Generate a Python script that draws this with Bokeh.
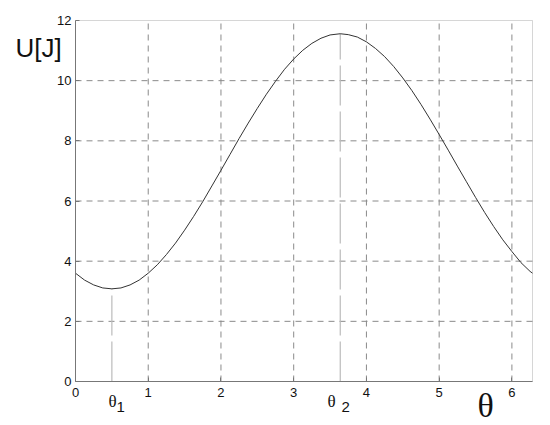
from bokeh.plotting import figure
from bokeh.models import FixedTicker, Label, Range1d, LinearAxis, BoxAnnotation
from bokeh.embed import file_html
from bokeh.resources import INLINE

# data
theta = [0.0, 0.125, 0.25, 0.375, 0.5, 0.625, 0.75, 0.875, 1.0, 1.125, 1.25,
         1.375, 1.5, 1.625, 1.75, 1.875, 2.0, 2.125, 2.25, 2.375, 2.5, 2.625,
         2.75, 2.875, 3.0, 3.125, 3.25, 3.375, 3.5, 3.64, 3.75, 3.875, 4.0,
         4.125, 4.25, 4.375, 4.5, 4.625, 4.75, 4.875, 5.0, 5.125, 5.25, 5.375,
         5.5, 5.625, 5.75, 5.875, 6.0, 6.125, 6.25, 6.2832]
energy = [3.60, 3.37, 3.21, 3.11, 3.08, 3.11, 3.21, 3.37, 3.60, 3.88, 4.22,
          4.60, 5.03, 5.49, 5.98, 6.50, 7.02, 7.55, 8.08, 8.59, 9.08, 9.55,
          9.98, 10.38, 10.72, 11.01, 11.24, 11.41, 11.52, 11.56, 11.53, 11.45,
          11.29, 11.07, 10.80, 10.47, 10.09, 9.67, 9.21, 8.72, 8.21, 7.69,
          7.16, 6.64, 6.12, 5.62, 5.15, 4.71, 4.32, 3.95, 3.66, 3.60]
theta1, u_min = 0.50, 3.08
theta2, u_max = 3.64, 11.56
x_min, x_max = 0.0, 6.2832
y_min, y_max = 0.0, 12.0
x_ticks = [0, 1, 2, 3, 4, 5, 6]
y_ticks = [0, 2, 4, 6, 8, 10, 12]

# layout: axes box at pixels x 75..532, y 20..381 of a 550x425 canvas
W, H = 550, 425
BOX_L, BOX_R, BOX_T, BOX_B = 75, 532, 20, 381
sx = (BOX_R - BOX_L) / (x_max - x_min)
sy = (BOX_B - BOX_T) / (y_max - y_min)
xr = Range1d(x_min - BOX_L / sx, x_max + (W - BOX_R) / sx)
yr = Range1d(y_min - (H - BOX_B) / sy, y_max + BOX_T / sy)


def px(x):
    return x_min + (x - BOX_L) / sx


def py(y):
    return y_min + (BOX_B - y) / sy


p = figure(width=W, height=H, output_backend="svg", toolbar_location=None,
           x_range=xr, y_range=yr, x_axis_type=None, y_axis_type=None,
           min_border=0)
p.background_fill_color = "white"
p.border_fill_color = "white"
p.outline_line_color = None
p.xgrid.visible = False
p.ygrid.visible = False

# grid lines at tick positions
gx = x_ticks[1:]
gy = y_ticks[1:-1]
p.segment(x0=gx, y0=[y_min] * len(gx), x1=gx, y1=[y_max] * len(gx),
          line_color="#8a8a8a", line_dash="6 5", line_width=1)
p.segment(x0=[x_min] * len(gy), y0=gy, x1=[x_max] * len(gy), y1=gy,
          line_color="#8a8a8a", line_dash="6 5", line_width=1)

# axes box
p.add_layout(BoxAnnotation(left=x_min, right=x_max, bottom=y_min, top=y_max,
                           fill_alpha=0, line_color="#777777", line_width=1,
                           level="overlay"))

xaxis = LinearAxis(fixed_location=y_min, bounds=(x_min, x_max),
                   ticker=FixedTicker(ticks=x_ticks))
yaxis = LinearAxis(fixed_location=x_min, bounds=(y_min, y_max),
                   ticker=FixedTicker(ticks=y_ticks))
for ax in (xaxis, yaxis):
    ax.axis_line_color = "#777777"
    ax.major_tick_line_color = "#777777"
    ax.major_tick_in = 4
    ax.major_tick_out = 0
    ax.minor_tick_line_color = None
    ax.major_label_text_font = "Liberation Sans"
    ax.major_label_text_font_size = "13px"
    ax.major_label_text_color = "#111111"
xaxis.major_label_standoff = 6
yaxis.major_label_standoff = 4
p.add_layout(xaxis, "below")
p.add_layout(yaxis, "left")

# markers of the extrema
p.segment(x0=[theta1], y0=[y_min], x1=[theta1], y1=[u_min],
          line_color="#bbbbbb", line_width=1.2, line_dash="40 6")
p.segment(x0=[theta2], y0=[y_min], x1=[theta2], y1=[u_max],
          line_color="#bbbbbb", line_width=1.2, line_dash="40 6")

p.line(theta, energy, line_color="#333333", line_width=1)


def lab(x, y, text, font, size):
    # (x, y): pixel position of the left edge / vertical middle of the text
    p.add_layout(Label(x=px(x), y=py(y), text=text, text_font=font,
                       text_font_size=size, text_color="#111111",
                       text_baseline="middle", text_align="left"))


lab(15, 47.5, "U[J]", "Liberation Sans", "26px")
lab(477, 404.5, "θ", "Liberation Serif", "34px")
lab(108, 401, "θ", "Liberation Serif", "17px")
lab(116, 406, "1", "Liberation Sans", "15px")
lab(327, 401, "θ", "Liberation Serif", "17px")
lab(341, 406, "2", "Liberation Sans", "15px")

open("out.html", "w").write(file_html(p, INLINE))
